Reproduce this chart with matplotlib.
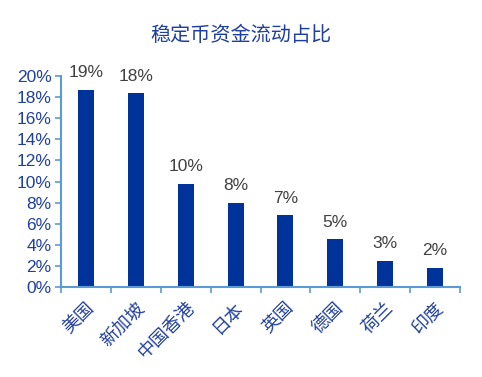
import matplotlib.pyplot as plt
import numpy as np

# data
regions = ['美国', '新加坡', '中国香港', '日本', '英国', '德国', '荷兰', '印度']
shares = [18.7, 18.4, 9.8, 8.0, 6.8, 4.5, 2.5, 1.8]
share_labels = ['19%', '18%', '10%', '8%', '7%', '5%', '3%', '2%']
y_ticks = [0, 2, 4, 6, 8, 10, 12, 14, 16, 18, 20]

plt.rcParams['font.family'] = ['Liberation Sans', 'Noto Sans CJK SC', 'DejaVu Sans']

bar_color = '#003399'
axis_color = '#5B9BD5'
text_blue = '#1F3F9F'

fig = plt.figure(figsize=(4.82, 3.77), dpi=100)
ax = fig.add_axes([0.127, 0.239, 0.827, 0.559])

x = np.arange(len(regions))
ax.bar(x, shares, width=0.32, color=bar_color)

for xi, v, lab in zip(x, shares, share_labels):
    ax.text(xi, v + 0.9, lab, ha='center', va='bottom', fontsize=12.5, color='#404040')

ax.set_xlim(-0.5, len(regions) - 0.5)
ax.set_ylim(0, 20)
ax.set_yticks(y_ticks)
ax.set_yticklabels([f'{t}%' for t in y_ticks], fontsize=12.5, color=text_blue)

ax.set_xticks(x)
ax.set_xticklabels(regions, rotation=45, ha='right', va='top', rotation_mode='anchor',
                   fontsize=13, color=text_blue)
ax.tick_params(axis='x', which='major', length=0, pad=9)
ax.set_xticks(np.arange(-0.5, len(regions)), minor=True)
ax.tick_params(axis='x', which='minor', length=4, color=axis_color, width=1.2)
ax.tick_params(axis='y', length=4, color=axis_color, width=1.2, pad=3)

for side in ['top', 'right']:
    ax.spines[side].set_visible(False)
for side in ['left', 'bottom']:
    ax.spines[side].set_color(axis_color)
    ax.spines[side].set_linewidth(1.5)

fig.text(0.5, 0.905, '稳定币资金流动占比', ha='center', va='center', fontsize=14.5, color=text_blue)

plt.savefig('out.png', dpi=100)
plt.close()
